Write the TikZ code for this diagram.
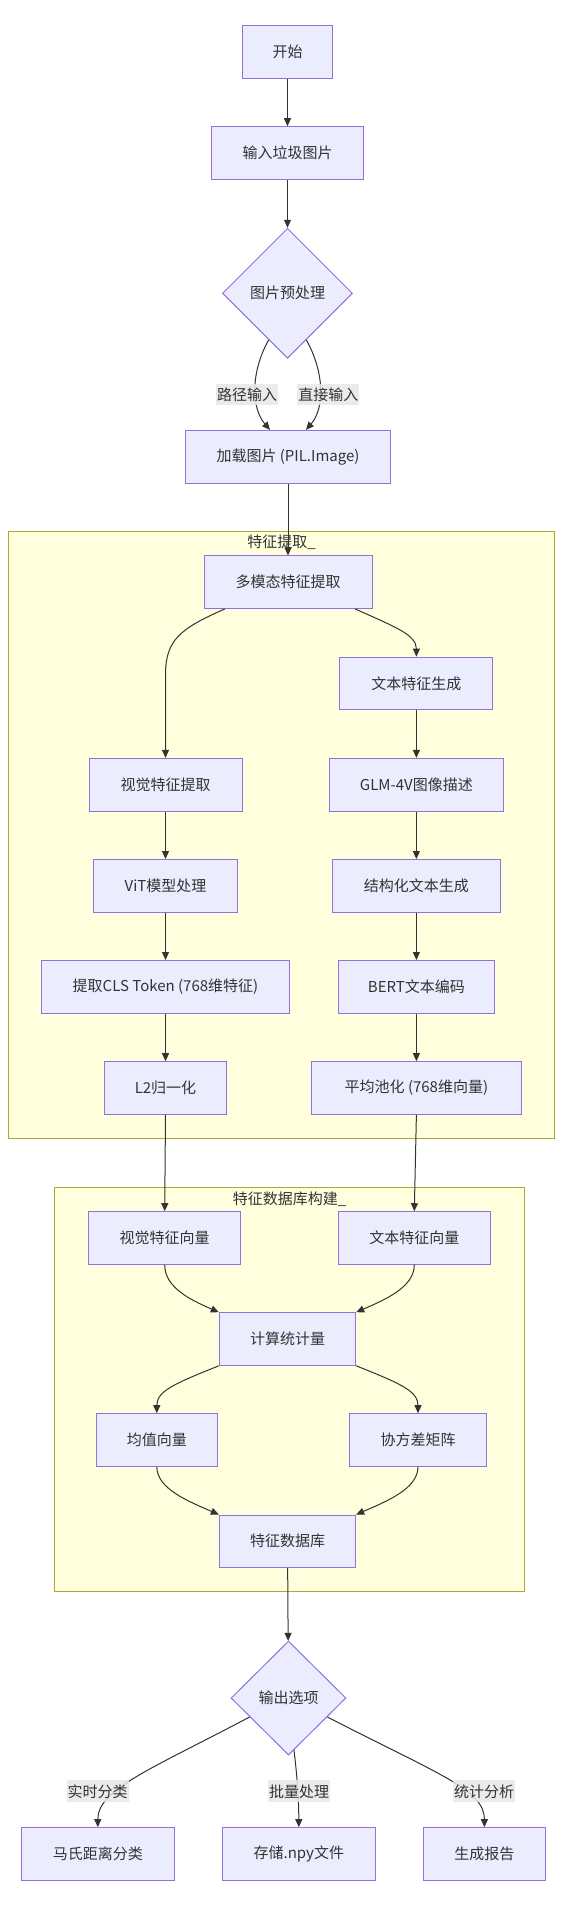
\documentclass[tikz,border=0pt]{standalone}
\usepackage{fontspec}
\setmainfont{Noto Sans CJK SC}
\usetikzlibrary{arrows.meta,shapes.geometric,calc}
\definecolor{nodefill}{HTML}{ECECFF}
\definecolor{nodeline}{HTML}{9370DB}
\definecolor{clusterfill}{HTML}{FFFFDE}
\definecolor{clusterline}{HTML}{AAAA33}
\definecolor{edgecol}{HTML}{333333}
\definecolor{txtcol}{HTML}{333333}
\definecolor{labelbg}{HTML}{E8E8E8}
\tikzset{
  box/.style={draw=nodeline, fill=nodefill, line width=1pt, minimum height=52.6pt,
    inner sep=0pt, text=txtcol, font=\fontsize{15}{18}\selectfont},
  decision/.style={diamond, draw=nodeline, fill=nodefill, line width=1pt, inner sep=0pt,
    text=txtcol, font=\fontsize{15}{18}\selectfont},
  cluster/.style={draw=clusterline, fill=clusterfill, line width=1pt},
  ctitle/.style={inner sep=0pt, text=txtcol, font=\fontsize{15}{18}\selectfont},
  edge/.style={draw=edgecol, line width=1pt, -{Triangle[length=8pt,width=7pt]}},
  elabel/.style={fill=labelbg, fill opacity=0.85, text opacity=1, inner xsep=1pt, inner ysep=4pt,
    text=txtcol, font=\fontsize{15}{18}\selectfont},
}
\begin{document}
\begin{tikzpicture}[x=1pt,y=-1pt]
\fill[white] (0,0) rectangle (560,1906);
\useasboundingbox (0,0) rectangle (560,1906);

% clusters
\draw[cluster] (8,531.7) rectangle (554.5,1138.3);
\node[ctitle] (c1t) at (281.5,542.5) {特征提取\_};
\draw[cluster] (54.3,1187.3) rectangle (524,1591.7);
\node[ctitle] (c2t) at (289.5,1198.8) {特征数据库构建\_};

% nodes
\node[box, minimum width=90pt] (start) at (287.5,52) {开始};
\node[box, minimum width=152pt] (input) at (287.5,153) {输入垃圾图片};
\node[decision, minimum width=130pt, minimum height=130pt] (pre) at (287.5,293.3) {图片预处理};
\node[box, minimum width=205.7pt] (load) at (288,456.7) {加载图片 (PIL.Image)};

\node[box, minimum width=168pt] (multi) at (288,582.2) {多模态特征提取};
\node[box, minimum width=153pt] (textgen) at (416.4,683.5) {文本特征生成};
\node[box, minimum width=153pt] (vis) at (165.5,784.7) {视觉特征提取};
\node[box, minimum width=174.6pt] (glm) at (416.4,784.7) {GLM-4V图像描述};
\node[box, minimum width=144pt] (vit) at (165.5,885.8) {ViT模型处理};
\node[box, minimum width=168.4pt] (struct) at (416.4,885.8) {结构化文本生成};
\node[box, minimum width=248pt] (cls) at (165.5,986.8) {提取CLS Token (768维特征)};
\node[box, minimum width=156.2pt] (bert) at (416.4,986.8) {BERT文本编码};
\node[box, minimum width=121.7pt] (l2) at (165.5,1088) {L2归一化};
\node[box, minimum width=209.2pt] (pool) at (416.4,1088) {平均池化 (768维向量)};

\node[box, minimum width=152pt] (vvec) at (164.7,1238) {视觉特征向量};
\node[box, minimum width=152pt] (tvec) at (414.3,1238) {文本特征向量};
\node[box, minimum width=136.4pt] (calc) at (287.5,1339) {计算统计量};
\node[box, minimum width=121pt] (mean) at (156.8,1440) {均值向量};
\node[box, minimum width=136.6pt] (cov) at (418,1440) {协方差矩阵};
\node[box, minimum width=136.4pt] (db) at (287.5,1541.3) {特征数据库};

\node[decision, minimum width=115pt, minimum height=114pt] (out) at (288.5,1698) {输出选项};
\node[box, minimum width=152.5pt] (maha) at (97.8,1854) {马氏距离分类};
\node[box, minimum width=152.5pt] (store) at (298.8,1854) {存储.npy文件};
\node[box, minimum width=121.7pt] (report) at (484.4,1854) {生成报告};

% edges
\draw[edge] (start) -- (input);
\draw[edge] (input) -- (pre);
\draw[edge] (pre.-112) .. controls +(-18,32) and +(-19,-22) .. ([xshift=-18pt]load.north);
\draw[edge] (pre.-68) .. controls +(18,32) and +(19,-22) .. ([xshift=18pt]load.north);
\draw[edge] (load) -- (multi);

\coordinate (vb) at ($(vis.north)+(0,-83)$);
\draw[edge] ([xshift=-63.3pt]multi.south) .. controls +(-44.7,19.7) and +(0,-35) .. (vb) -- (vis.north);
\draw[edge] ([xshift=67.3pt]multi.south) .. controls +(40,18) and +(0,-22) .. (textgen.north);
\draw[edge] (textgen) -- (glm);
\draw[edge] (glm) -- (struct);
\draw[edge] (struct) -- (bert);
\draw[edge] (bert) -- (pool);
\draw[edge] (vis) -- (vit);
\draw[edge] (vit) -- (cls);
\draw[edge] (cls) -- (l2);
\draw[edge] (l2.south) -- (vvec.north);
\draw[edge] (pool.south) -- (tvec.north);

\draw[edge] (vvec.south) .. controls +(0,22) and +(-30,-13) .. (calc.north west);
\draw[edge] (tvec.south) .. controls +(0,22) and +(30,-13) .. (calc.north east);
\draw[edge] (calc.south west) .. controls +(-45,18) and +(0,-22) .. (mean.north);
\draw[edge] (calc.south east) .. controls +(45,18) and +(0,-22) .. (cov.north);
\draw[edge] (mean.south) .. controls +(0,22) and +(-30,-13) .. (db.north west);
\draw[edge] (cov.south) .. controls +(0,22) and +(30,-13) .. (db.north east);
\draw[edge] (db) -- (out);

\draw[edge] (out.-154) .. controls +(-99.5,52.7) and +(0,-38) .. (maha.north);
\draw[edge] (out.-84) .. controls +(3,25) and +(0,-30) .. (store.north);
\draw[edge] (out.-26) .. controls +(111.6,57.7) and +(0,-37.7) .. (report.north);

% edge labels
\node[elabel] (lab1) at (247,394.5) {路径输入};
\node[elabel] (lab2) at (328.3,394.5) {直接输入};
\node[elabel] (lab3) at (97.6,1791.3) {实时分类};
\node[elabel] (lab4) at (299,1791.3) {批量处理};
\node[elabel] (lab5) at (484.2,1791.3) {统计分析};
\end{tikzpicture}
\end{document}
